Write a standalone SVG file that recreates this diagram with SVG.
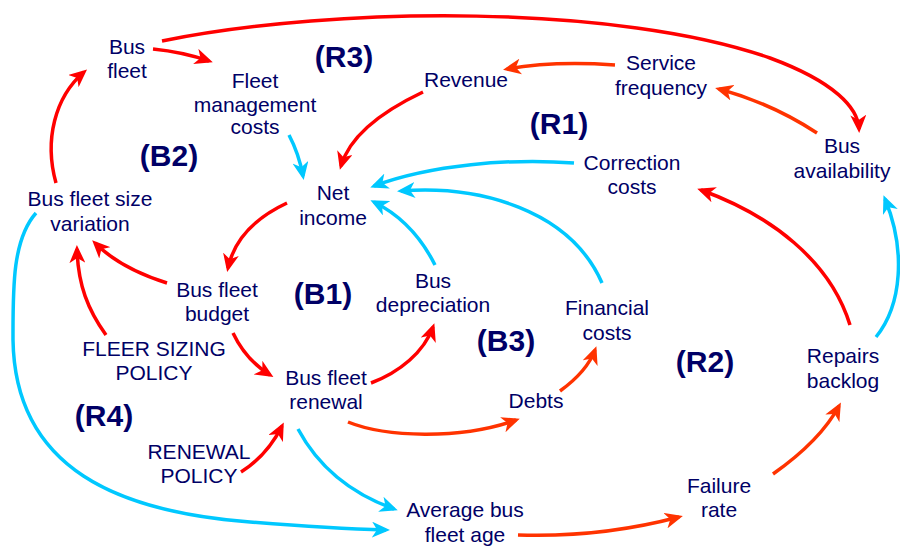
<svg xmlns="http://www.w3.org/2000/svg" width="900" height="547" viewBox="0 0 900 547">
<style>
  text { font-family: "Liberation Sans", Arial, sans-serif; fill: #000066; text-anchor: middle; }
  .n { font-size: 21px; }
  .loop { font-size: 30px; font-weight: bold; }
  .c { fill: none; stroke-width: 3.5; stroke-linecap: butt; }
  .red { stroke: #ff0000; marker-end: url(#aRed); }
  .org { stroke: #ff3300; marker-end: url(#aOrg); }
  .cyn { stroke: #00c8ff; marker-end: url(#aCyn); }
</style>
<defs>
  <marker id="aRed" viewBox="0 0 18 16" markerWidth="18" markerHeight="16" refX="14" refY="8" orient="auto" markerUnits="userSpaceOnUse">
    <path d="M0,0 L18,8 L0,16 L5,8 z" fill="#ff0000"/>
  </marker>
  <marker id="aOrg" viewBox="0 0 18 16" markerWidth="18" markerHeight="16" refX="14" refY="8" orient="auto" markerUnits="userSpaceOnUse">
    <path d="M0,0 L18,8 L0,16 L5,8 z" fill="#ff3300"/>
  </marker>
  <marker id="aCyn" viewBox="0 0 18 16" markerWidth="18" markerHeight="16" refX="14" refY="8" orient="auto" markerUnits="userSpaceOnUse">
    <path d="M0,0 L18,8 L0,16 L5,8 z" fill="#00c8ff"/>
  </marker>
</defs>
<rect width="900" height="547" fill="#ffffff"/>

<g id="connectors">
  <path class="c red" d="M162,41 C340,5 620,5 770,58 C835,82 858,108 859,129"/>
  <path class="c red" d="M153,49 Q183,52 209,61"/>
  <path class="c red" d="M56,183 C44,140 55,97 84,72"/>
  <path class="c cyn" d="M289,135 Q299,154 303,176"/>
  <path class="c red" d="M423,92 C385,110 350,135 341,166"/>
  <path class="c org" d="M615,65 C570,62 535,64 507,69"/>
  <path class="c org" d="M817,133 C785,112 752,98 719,89"/>
  <path class="c cyn" d="M574,163 C510,158 430,165 374,186"/>
  <path class="c cyn" d="M602,283 C570,210 480,185 401,191"/>
  <path class="c cyn" d="M435,265 C420,235 400,215 374,202"/>
  <path class="c red" d="M287,203 C255,218 234,240 228,268"/>
  <path class="c red" d="M167,283 C135,273 112,260 95,243"/>
  <path class="c red" d="M106,335 C88,310 78,285 77,249"/>
  <path class="c red" d="M233,333 C242,352 254,365 270,375"/>
  <path class="c red" d="M371,383 C400,372 424,352 433,327"/>
  <path class="c org" d="M348,422 C385,437 460,440 516,420"/>
  <path class="c org" d="M560,391 C578,378 589,366 595,350"/>
  <path class="c red" d="M241,472 C260,460 273,444 282,426"/>
  <path class="c cyn" d="M298,429 C320,470 355,495 394,509"/>
  <path class="c cyn" d="M36,213 C12,240 13,290 13,340 C15,470 120,512 250,522 C310,527 345,529 386,530"/>
  <path class="c org" d="M518,535 C580,537 630,530 679,517"/>
  <path class="c org" d="M773,474 C800,455 825,432 839,406"/>
  <path class="c red" d="M850,325 C830,260 770,215 701,190"/>
  <path class="c cyn" d="M876,337 C902,305 906,250 885,199"/>
</g>

<g id="bus-fleet"><text class="n" x="127" y="54">Bus</text><text class="n" x="127" y="78">fleet</text></g>
<g id="fleet-management-costs"><text class="n" x="255" y="88">Fleet</text><text class="n" x="255" y="112">management</text><text class="n" x="255" y="134">costs</text></g>
<g id="revenue"><text class="n" x="466" y="87">Revenue</text></g>
<g id="service-frequency"><text class="n" x="661" y="70">Service</text><text class="n" x="661" y="95">frequency</text></g>
<g id="bus-availability"><text class="n" x="842" y="153">Bus</text><text class="n" x="842" y="178">availability</text></g>
<g id="correction-costs"><text class="n" x="632" y="170">Correction</text><text class="n" x="632" y="194">costs</text></g>
<g id="net-income"><text class="n" x="333" y="200">Net</text><text class="n" x="333" y="225">income</text></g>
<g id="bus-fleet-size-variation"><text class="n" x="90" y="206">Bus fleet size</text><text class="n" x="90" y="231">variation</text></g>
<g id="bus-fleet-budget"><text class="n" x="217" y="297">Bus fleet</text><text class="n" x="217" y="321">budget</text></g>
<g id="bus-depreciation"><text class="n" x="433" y="288">Bus</text><text class="n" x="433" y="312">depreciation</text></g>
<g id="financial-costs"><text class="n" x="607" y="315">Financial</text><text class="n" x="607" y="340">costs</text></g>
<g id="fleer-sizing-policy"><text class="n" x="154" y="356">FLEER SIZING</text><text class="n" x="154" y="380">POLICY</text></g>
<g id="bus-fleet-renewal"><text class="n" x="326" y="385">Bus fleet</text><text class="n" x="326" y="409">renewal</text></g>
<g id="repairs-backlog"><text class="n" x="843" y="363">Repairs</text><text class="n" x="843" y="388">backlog</text></g>
<g id="debts"><text class="n" x="536" y="408">Debts</text></g>
<g id="renewal-policy"><text class="n" x="199" y="459">RENEWAL</text><text class="n" x="199" y="483">POLICY</text></g>
<g id="failure-rate"><text class="n" x="719" y="493">Failure</text><text class="n" x="719" y="517">rate</text></g>
<g id="average-bus-fleet-age"><text class="n" x="465" y="517">Average bus</text><text class="n" x="465" y="542">fleet age</text></g>

<g id="loop-labels">
  <text class="loop" x="344" y="67">(R3)</text>
  <text class="loop" x="559" y="134">(R1)</text>
  <text class="loop" x="169" y="166">(B2)</text>
  <text class="loop" x="323" y="304">(B1)</text>
  <text class="loop" x="506" y="351">(B3)</text>
  <text class="loop" x="705" y="372">(R2)</text>
  <text class="loop" x="104" y="426">(R4)</text>
</g>
</svg>
